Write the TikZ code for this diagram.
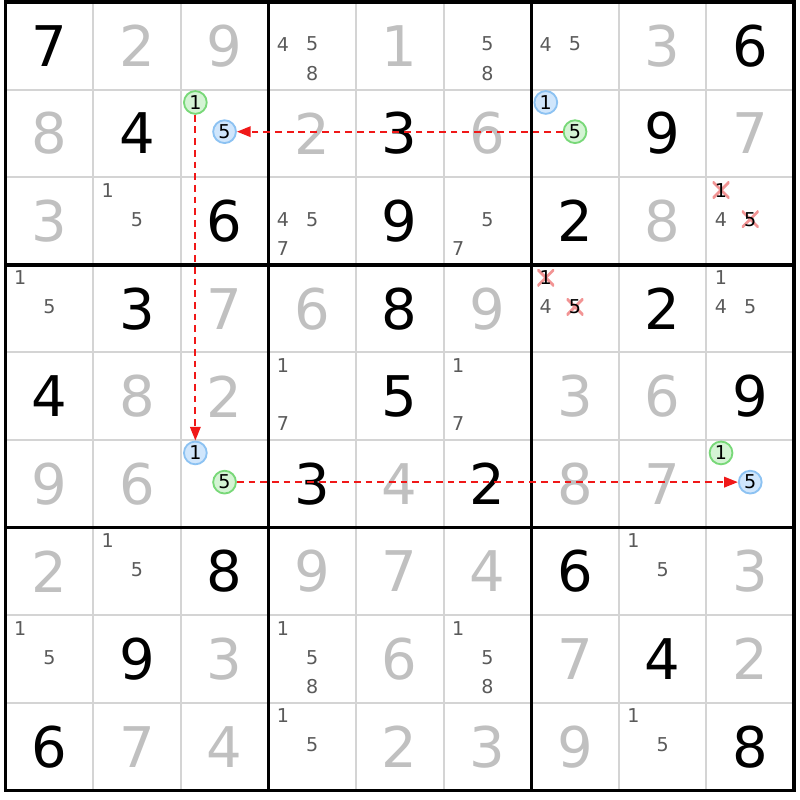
\documentclass[tikz,border=0pt]{standalone}
\usepackage{fontspec}
\setmainfont{DejaVu Sans}
\usetikzlibrary{arrows.meta}

\definecolor{solvedgrey}{HTML}{C0C0C0}
\definecolor{candgrey}{HTML}{5A5A5A}
\definecolor{thingrid}{HTML}{D4D4D4}
\definecolor{chaingreen}{HTML}{D4F4D4}
\definecolor{chaingreenline}{HTML}{78D878}
\definecolor{chainblue}{HTML}{D0E6FC}
\definecolor{chainblueline}{HTML}{8CC2F2}
\definecolor{linkred}{HTML}{F01818}
\definecolor{strikered}{HTML}{F29494}

\begin{document}
\begin{tikzpicture}[
  given/.style={font=\fontsize{18.2pt}{20pt}\selectfont, text=black, inner sep=0pt},
  solved/.style={given, text=solvedgrey},
  cand/.style={font=\fontsize{6.2pt}{7pt}\selectfont, text=candgrey, inner sep=0pt},
  oncolor/.style={cand, text=black, circle, draw=chaingreenline, fill=chaingreen, line width=0.6pt, minimum size=7.4pt},
  offcolor/.style={oncolor, draw=chainblueline, fill=chainblue},
  struck/.style={cand, text=black, minimum size=5.4pt, fill=white,
    path picture={\draw[strikered, line width=0.9pt]
      (path picture bounding box.south west) -- (path picture bounding box.north east)
      (path picture bounding box.north west) -- (path picture bounding box.south east);}},
  link/.style={-{Triangle[length=4.5pt,width=3.4pt]}, color=linkred, dash pattern=on 2.2pt off 1.6pt, line width=0.7pt}
]
\useasboundingbox (-0.063,-0.108) rectangle (9.057,9.023);

% grid
\foreach \i in {1,...,8} {
  \draw[thingrid, line width=0.65pt] (\i,0) -- (\i,9);
  \draw[thingrid, line width=0.65pt] (0,\i) -- (9,\i);
}
\foreach \i in {3,6} {
  \draw[line width=1.1pt] (\i,0) -- (\i,9);
  \draw[line width=1.1pt] (0,\i) -- (9,\i);
}
\draw[line width=1.1pt] (0,0) rectangle (9,9);

% givens
\foreach \r/\c/\d in {1/1/7, 1/9/6, 2/2/4, 2/5/3, 2/8/9, 3/3/6, 3/5/9, 3/7/2, 4/2/3, 4/5/8, 4/8/2,
  5/1/4, 5/5/5, 5/9/9, 6/4/3, 6/6/2, 7/3/8, 7/7/6, 8/2/9, 8/8/4, 9/1/6, 9/9/8}
  \node (d-\r\c) [given] at (\c-0.5, 9.5-\r) {\d};

% solved cells
\foreach \r/\c/\d in {1/2/2, 1/3/9, 1/5/1, 1/8/3, 2/1/8, 2/4/2, 2/6/6, 2/9/7, 3/1/3, 3/8/8,
  4/3/7, 4/4/6, 4/6/9, 5/2/8, 5/3/2, 5/7/3, 5/8/6, 6/1/9, 6/2/6, 6/5/4, 6/7/8, 6/8/7,
  7/1/2, 7/4/9, 7/5/7, 7/6/4, 7/9/3, 8/3/3, 8/5/6, 8/7/7, 8/9/2, 9/2/7, 9/3/4, 9/5/2, 9/6/3, 9/7/9}
  \node (d-\r\c) [solved] at (\c-0.5, 9.5-\r) {\d};

% pencil marks
\foreach \r/\c/\ks in {1/4/{4,5,8}, 1/6/{5,8}, 1/7/{4,5}, 3/2/{1,5}, 3/4/{4,5,7}, 3/6/{5,7},
  4/1/{1,5}, 4/9/{1,4,5}, 5/4/{1,7}, 5/6/{1,7}, 7/2/{1,5}, 7/8/{1,5}, 8/1/{1,5},
  8/4/{1,5,8}, 8/6/{1,5,8}, 9/4/{1,5}, 9/8/{1,5}}
  \foreach \k in \ks
    \node (k-\r\c-\k) [cand] at ({\c-1+(mod(\k-1,3)+0.5)/3}, {10.02-\r-(floor((\k-1)/3)+0.5)/3}) {\k};

% chain and eliminations
\foreach \r/\c/\k/\s in {2/3/1/oncolor, 2/3/5/offcolor, 2/7/1/offcolor, 2/7/5/oncolor,
  6/3/1/offcolor, 6/3/5/oncolor, 6/9/1/oncolor, 6/9/5/offcolor,
  3/9/1/struck, 3/9/4/cand, 3/9/5/struck, 4/7/1/struck, 4/7/4/cand, 4/7/5/struck}
  \node (k-\r\c-\k) [\s] at ({\c-1+(mod(\k-1,3)+0.5)/3}, {10.02-\r-(floor((\k-1)/3)+0.5)/3}) {\k};

\draw[link] (k-27-5) -- (k-23-5);
\draw[link] (k-23-1) -- (k-63-1);
\draw[link] (k-63-5) -- (k-69-5);
\end{tikzpicture}
\end{document}
